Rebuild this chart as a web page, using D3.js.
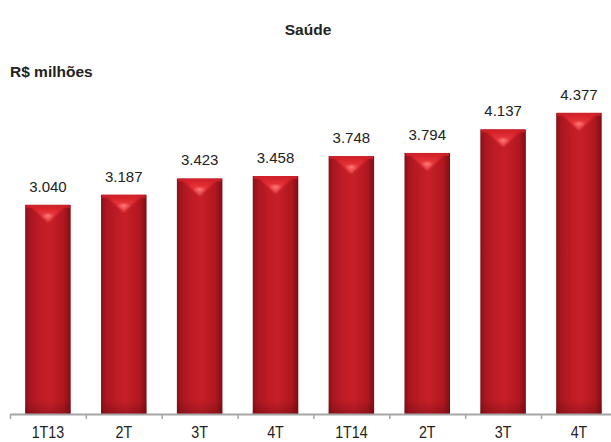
<!DOCTYPE html>
<html>
<head>
<meta charset="utf-8">
<script src="https://cdnjs.cloudflare.com/ajax/libs/d3/7.8.5/d3.min.js"></script>
<style>
  html, body { margin: 0; padding: 0; background: #ffffff; }
  svg { display: block; font-family: "Liberation Sans", Arial, sans-serif; }
</style>
</head>
<body>
<svg id="chart" width="611" height="442"></svg>
<script>
// Quarterly health-insurance figures (R$ millions)
const categories = ["1T13", "2T", "3T", "4T", "1T14", "2T", "3T", "4T"];
const values = [3040, 3187, 3423, 3458, 3748, 3794, 4137, 4377];
const valueLabels = ["3.040", "3.187", "3.423", "3.458", "3.748", "3.794", "4.137", "4.377"];
const title = "Saúde";
const unitLabel = "R$ milhões";

const svg = d3.select("#chart");
const W = 611, H = 442;
const axisY = 414;
const left = 10, step = 75.86;
const idx = d3.range(categories.length);

const x = d3.scaleBand()
  .domain(idx)
  .range([left, left + step * categories.length])
  .paddingInner(0.4)
  .paddingOuter(0.2);

const y = d3.scaleLinear().domain([0, 4500]).range([axisY, axisY - 4500 * 0.0688]);

// gradients
const defs = svg.append("defs");
const body = defs.append("linearGradient").attr("id", "barBody")
  .attr("x1", "0").attr("x2", "1").attr("y1", "0").attr("y2", "0");
[[0, "#8a0f17"], [0.1, "#a8161f"], [0.35, "#c01c26"], [0.55, "#c71f29"], [0.85, "#b0171f"], [1, "#7f0d14"]]
  .forEach(([o, c]) => body.append("stop").attr("offset", o).attr("stop-color", c));

const tri = defs.append("linearGradient").attr("id", "chev")
  .attr("x1", "0").attr("x2", "0").attr("y1", "0").attr("y2", "1");
[[0, "#d8222b", 0.9], [0.6, "#ec3a3f", 0.95], [1, "#f36a6a", 1]]
  .forEach(([o, c, a]) => tri.append("stop").attr("offset", o).attr("stop-color", c).attr("stop-opacity", a));

const glow = defs.append("radialGradient").attr("id", "glow");
glow.append("stop").attr("offset", 0).attr("stop-color", "#ff8a8a").attr("stop-opacity", 0.9);
glow.append("stop").attr("offset", 1).attr("stop-color", "#ff5a5a").attr("stop-opacity", 0);

const bottom = defs.append("linearGradient").attr("id", "barBottom")
  .attr("x1", "0").attr("x2", "0").attr("y1", "0").attr("y2", "1");
bottom.append("stop").attr("offset", 0).attr("stop-color", "#5a0a0f").attr("stop-opacity", 0);
bottom.append("stop").attr("offset", 1).attr("stop-color", "#5a0a0f").attr("stop-opacity", 0.35);

const blur = defs.append("filter").attr("id", "soft");
blur.append("feGaussianBlur").attr("stdDeviation", 1.2);

// title texts
svg.append("text").attr("x", 308).attr("y", 35).attr("text-anchor", "middle")
  .attr("font-weight", "bold").attr("font-size", 15.5).attr("fill", "#222")
  .text(title);
svg.append("text").attr("x", 10).attr("y", 77)
  .attr("font-weight", "bold").attr("font-size", 15.5).attr("fill", "#222")
  .text(unitLabel);

// bars
const bw = x.bandwidth();
const g = svg.append("g");
const bars = g.selectAll("g.bar").data(idx).join("g").attr("class", "bar");

bars.append("rect")
  .attr("x", i => x(i)).attr("y", i => y(values[i]))
  .attr("width", bw).attr("height", i => axisY - y(values[i]))
  .attr("fill", "url(#barBody)");

// lighter top rim
bars.append("rect")
  .attr("x", i => x(i) + 1).attr("y", i => y(values[i]))
  .attr("width", bw - 2).attr("height", 3)
  .attr("fill", "#d2232c").attr("opacity", 0.8);

// chevron highlight near the top
bars.append("path")
  .attr("d", i => {
    const x0 = x(i), t = y(values[i]);
    return `M${x0 + bw * 0.12},${t + 2} L${x0 + bw * 0.88},${t + 2} L${x0 + bw * 0.5},${t + 17} Z`;
  })
  .attr("fill", "url(#chev)")
  .attr("filter", "url(#soft)");

bars.append("ellipse")
  .attr("cx", i => x(i) + bw * 0.5).attr("cy", i => y(values[i]) + 11)
  .attr("rx", 7).attr("ry", 4)
  .attr("fill", "url(#glow)");

// darker foot of each bar
bars.append("rect")
  .attr("x", i => x(i)).attr("y", axisY - 14)
  .attr("width", bw).attr("height", 14)
  .attr("fill", "url(#barBottom)");

// value labels
g.selectAll("text.val").data(idx).join("text").attr("class", "val")
  .attr("x", i => x(i) + bw / 2).attr("y", i => y(values[i]) - 13)
  .attr("text-anchor", "middle").attr("font-size", 15).attr("fill", "#222")
  .text(i => valueLabels[i]);

// category axis with ticks at band boundaries
const edge = d3.scaleLinear().domain([0, categories.length]).range([left, left + step * categories.length]);
const axis = d3.axisBottom(edge).tickValues(d3.range(categories.length + 1)).tickFormat("").tickSize(5).tickSizeOuter(0);
const ag = svg.append("g").attr("transform", `translate(0,${axisY})`).call(axis);
ag.select(".domain").attr("stroke", "#a6a6a6").attr("stroke-width", 2);
ag.selectAll(".tick line").attr("stroke", "#a6a6a6").attr("stroke-width", 1.5);

svg.append("g").selectAll("text").data(idx).join("text")
  .attr("transform", i => `translate(${x(i) + bw / 2},${axisY + 24}) scale(0.92,1.12)`)
  .attr("text-anchor", "middle").attr("font-size", 15.5).attr("fill", "#222")
  .text(i => categories[i]);
</script>
</body>
</html>
